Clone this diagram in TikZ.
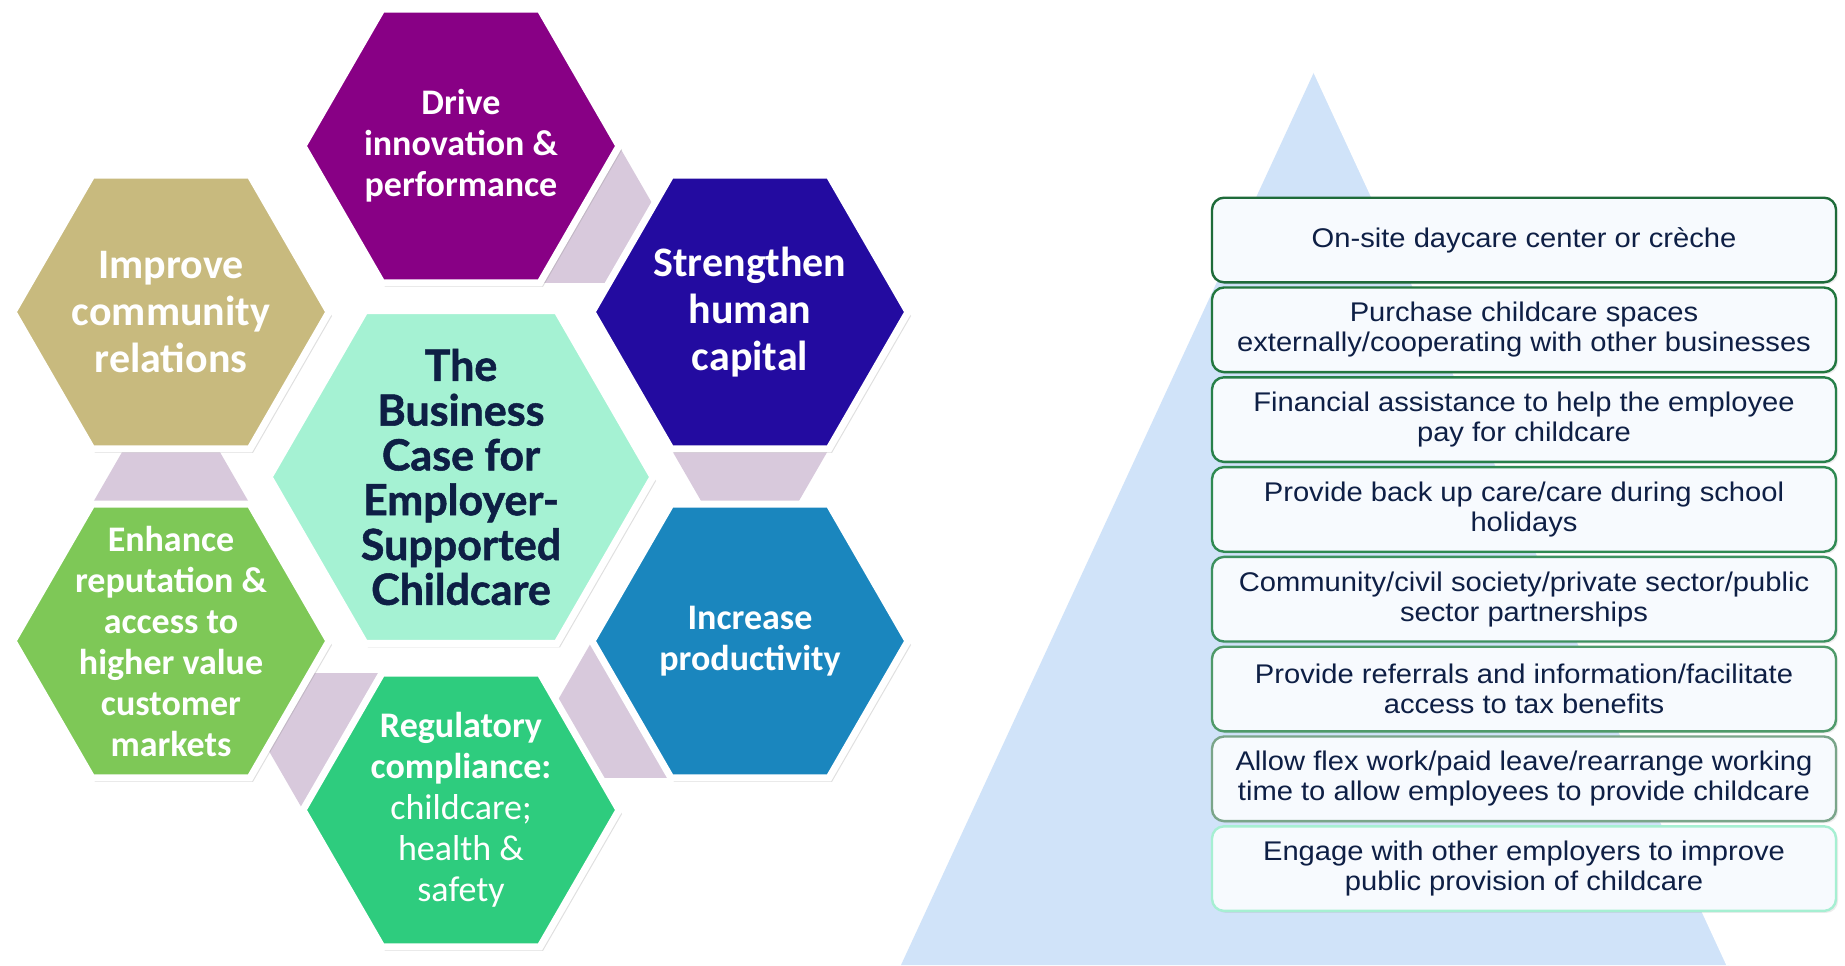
\documentclass[tikz,border=0pt]{standalone}
\usepackage{fontspec}
\setmainfont{Liberation Sans}
\newfontfamily\hexfont{Carlito}
\newfontfamily\casefont[FakeBold=1.2]{Lato}
\newfontfamily\boxfont[FakeStretch=1.08]{Liberation Sans}
\usepackage{xcolor}
\usetikzlibrary{shapes, positioning, shadows}

\definecolor{drivecol}{HTML}{880085}
\definecolor{improvecol}{HTML}{C8BA7E}
\definecolor{strengthcol}{HTML}{230BA0}
\definecolor{casecol}{HTML}{A5F2D3}
\definecolor{enhancecol}{HTML}{7EC857}
\definecolor{increasecol}{HTML}{1A86BE}
\definecolor{regulcol}{HTML}{2ECC7E}
\definecolor{stripcol}{HTML}{D8C9DC}
\definecolor{navy}{HTML}{0E1F45}
\definecolor{pyrcol}{HTML}{D0E3F9}
\definecolor{boxfill}{HTML}{F7FAFE}
\definecolor{bc1}{HTML}{1E6B3A}
\definecolor{bc2}{HTML}{22773F}
\definecolor{bc3}{HTML}{27804A}
\definecolor{bc4}{HTML}{2F8A52}
\definecolor{bc5}{HTML}{3D9160}
\definecolor{bc6}{HTML}{4F9A6A}
\definecolor{bc7}{HTML}{7AA58A}
\definecolor{bc8}{HTML}{A6EFD2}

\begin{document}
\begin{tikzpicture}[x=0.5pt, y=-0.5pt]
\tikzstyle{hexa} = [regular polygon, regular polygon sides=6, minimum size=158pt, inner sep=0pt, draw=white, line width=3.5pt, drop shadow={shadow xshift=1.5pt, shadow yshift=-2pt, opacity=0.25}]
\tikzstyle{hextext} = [text=white, align=center, font=\hexfont\bfseries\fontsize{18}{20.5}\selectfont]
\tikzstyle{bigtext} = [text=white, align=center, font=\hexfont\bfseries\fontsize{21}{23.5}\selectfont]
\tikzstyle{option} = [rectangle, rounded corners=6pt, minimum width=312pt, minimum height=42.3pt, outer sep=0pt, align=center, fill=boxfill, line width=1.2pt, text=navy, font=\boxfont\fontsize{13.5}{15}\selectfont, drop shadow={shadow xshift=1pt, shadow yshift=-1pt, opacity=0.15}]
\tikzstyle{link} = [fill=stripcol]

\useasboundingbox (0,0) rectangle (1845,965);
\fill[white] (0,0) rectangle (1845,965);

% pyramid behind the options
\fill[pyrcol] (1315,70) -- (901,965) -- (1729,965) -- cycle;
\draw[white, line width=2.5pt] (1315,70) -- (1729,965);

% hexagon centres
\coordinate (pdrive) at (461,146);
\coordinate (pimprove) at (171,312);
\coordinate (pstrength) at (750,312);
\coordinate (penhance) at (171,641);
\coordinate (pincrease) at (750,641);
\coordinate (pregul) at (461,810);
\coordinate (pcase) at (461,477);

% connecting wedges, one on the edge that faces the next hexagon
\fill [link] (pdrive) +(0:158) -- +(60:158) -- +(30:273.7) -- cycle;
\fill [link] (pstrength) +(60:158) -- +(120:158) -- +(90:273.7) -- cycle;
\fill [link] (pincrease) +(120:158) -- +(180:158) -- +(150:273.7) -- cycle;
\fill [link] (pregul) +(180:158) -- +(240:158) -- +(210:273.7) -- cycle;
\fill [link] (penhance) +(240:158) -- +(300:158) -- +(270:273.7) -- cycle;

\node (drive) [hexa, fill=drivecol] at (pdrive) {};
\node (improve) [hexa, fill=improvecol] at (pimprove) {};
\node (strength) [hexa, fill=strengthcol] at (pstrength) {};
\node (enhance) [hexa, fill=enhancecol] at (penhance) {};
\node (increase) [hexa, fill=increasecol] at (pincrease) {};
\node (regul) [hexa, fill=regulcol] at (pregul) {};
\node (case) [hexa, fill=casecol, minimum size=192pt] at (pcase) {};

\node (drive-t) [hextext] at (drive) {Drive\\innovation \&\\performance};
\node (improve-t) [bigtext] at (improve) {Improve\\community\\relations};
\node (strength-t) [bigtext] at (strength) {Strengthen\\human\\capital};
\node (enhance-t) [hextext] at (enhance) {Enhance\\reputation \&\\access to\\higher value\\customer\\markets};
\node (increase-t) [hextext] at (increase) {Increase\\productivity};
\node (regul-t) [hextext] at (regul) {Regulatory\\compliance:\\{\mdseries childcare;}\\{\mdseries health \&}\\{\mdseries safety}};
\node (case-t) [align=center, text=navy, font=\casefont\bfseries\fontsize{21.5}{22.4}\selectfont] at (case) {The\\Business\\Case for\\Employer-\\Supported\\Childcare};

% options
\node (b1) [option, draw=bc1] at (1524,240) {On-site daycare center or crèche};
\node (b2) [option, draw=bc2, below=2.6pt of b1] {Purchase childcare spaces\\externally/cooperating with other businesses};
\node (b3) [option, draw=bc3, below=2.6pt of b2] {Financial assistance to help the employee\\pay for childcare};
\node (b4) [option, draw=bc4, below=2.6pt of b3] {Provide back up care/care during school\\holidays};
\node (b5) [option, draw=bc5, below=2.6pt of b4] {Community/civil society/private sector/public\\sector partnerships};
\node (b6) [option, draw=bc6, below=2.6pt of b5] {Provide referrals and information/facilitate\\access to tax benefits};
\node (b7) [option, draw=bc7, below=2.6pt of b6] {Allow flex work/paid leave/rearrange working\\time to allow employees to provide childcare};
\node (b8) [option, draw=bc8, below=2.6pt of b7] {Engage with other employers to improve\\public provision of childcare};

\end{tikzpicture}
\end{document}
